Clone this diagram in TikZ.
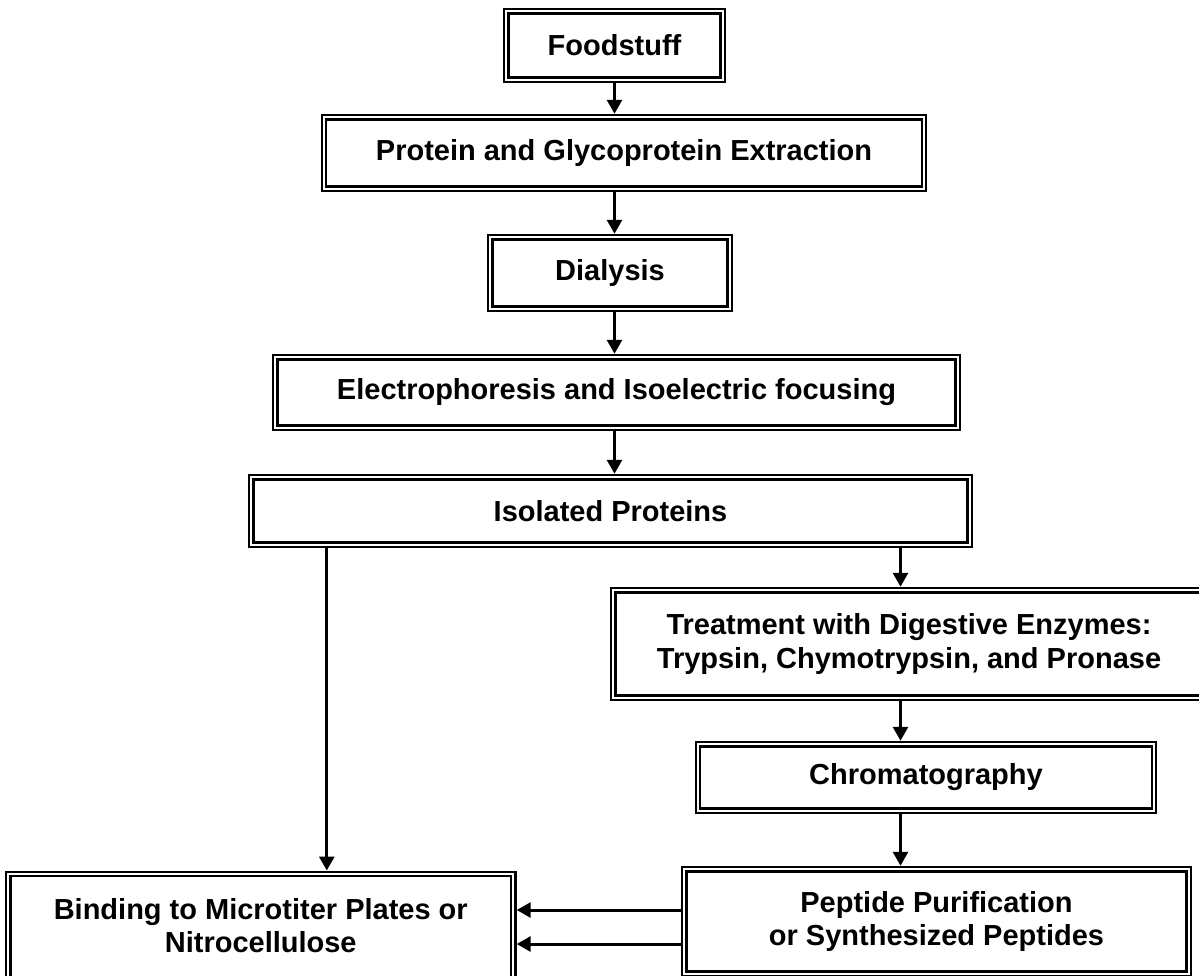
\documentclass[tikz,border=0pt]{standalone}
\usepackage{fontspec}
\setmainfont{Liberation Sans}
\usepackage{tikz}
\usetikzlibrary{arrows.meta}
\tikzset{
    etape/.style = {draw, double, line width=1.3pt, double distance=1.2pt, align=center,
                    inner sep=0pt, outer sep=2pt,
                    font=\bfseries\fontsize{16.5pt}{18.8pt}\selectfont},
    fleche/.style = {->, line width=1.7pt},
    >={Triangle[length=0.28cm, width=0.3cm]}
}

\begin{document}
\begin{tikzpicture}[x=0.02cm, y=-0.02cm]
                \useasboundingbox (0,0) rectangle (1199,975);
                \clip (0,0) rectangle (1199,975);
                \node (food) [etape, minimum width=4.33cm, minimum height=1.37cm] at (614.5,45.5) {Foodstuff};
                \node (protein) [etape, minimum width=12cm, minimum height=1.43cm] at (624,153) {Protein and Glycoprotein Extraction};
                \node (dialysis) [etape, minimum width=4.79cm, minimum height=1.43cm] at (610,273) {Dialysis};
                \node (electro) [etape, minimum width=13.65cm, minimum height=1.41cm] at (616.5,392.5) {Electrophoresis and Isoelectric focusing};
                \node (isolated) [etape, minimum width=14.37cm, minimum height=1.35cm] at (610.5,511) {Isolated Proteins};
                \node (treat) [etape, minimum width=11.83cm, minimum height=2.15cm] at (909,644) {Treatment with Digestive Enzymes:\\Trypsin, Chymotrypsin, and Pronase};
                \node (chrom) [etape, minimum width=9.12cm, minimum height=1.33cm] at (926,777.5) {Chromatography};
                \node (peptide) [etape, minimum width=10.09cm, minimum height=2.09cm] at (936.5,921.5) {Peptide Purification\\or Synthesized Peptides};
                \node (binding) [etape, minimum width=10.1cm, minimum height=2.3cm, text depth=7.4pt] at (260.75,931.5) {Binding to Microtiter Plates or\\Nitrocellulose};
                % colonnes des fleches
                \coordinate (lcol) at ([xshift=1.58cm]isolated.south west);
                \coordinate (tcol) at ([xshift=-0.17cm]treat.north);
                \foreach \a/\b in {food/protein, protein/dialysis, dialysis/electro, electro/isolated} {
                        \draw[fleche] (\a.south -| food) -- (\b.north -| food);
                    }
                \foreach \a/\b in {isolated/treat, treat/chrom, chrom/peptide} {
                        \draw[fleche] (\a.south -| tcol) -- (\b.north -| tcol);
                    }
                \draw[fleche] (lcol) -- (lcol |- binding.north);
                \foreach \s in {0.23cm, -0.45cm} {
                        \draw[fleche] ([yshift=\s]peptide.west) -- ([yshift=\s]peptide.west -| binding.east);
                    }
            \end{tikzpicture}
\end{document}
